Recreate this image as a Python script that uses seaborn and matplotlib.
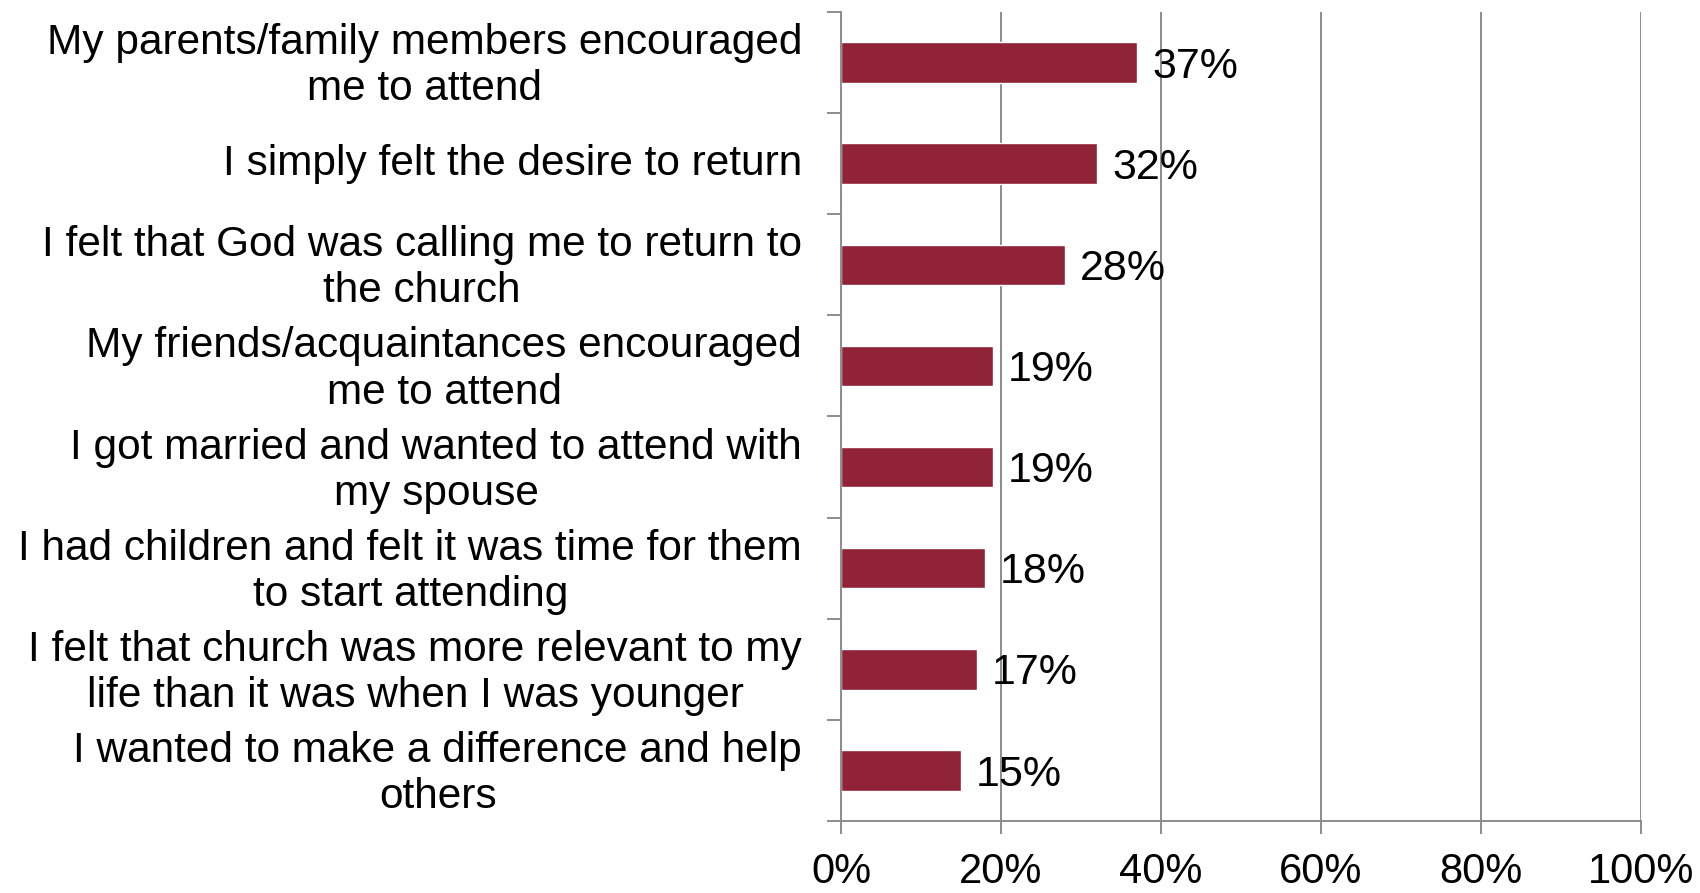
import matplotlib
matplotlib.use("Agg")
import matplotlib.pyplot as plt
import matplotlib.transforms as mtransforms
import seaborn as sns
import pandas as pd
import numpy as np

# reasons for returning to church
reasons = [
    "My parents/family members encouraged\nme to attend",
    "I simply felt the desire to return",
    "I felt that God was calling me to return to\nthe church",
    "My friends/acquaintances encouraged\nme to attend",
    "I got married and wanted to attend with\nmy spouse",
    "I had children and felt it was time for them\nto start attending",
    "I felt that church was more relevant to my\nlife than it was when I was younger",
    "I wanted to make a difference and help\nothers",
]
pct = [37, 32, 28, 19, 19, 18, 17, 15]
xticks = [0, 20, 40, 60, 80, 100]

sns.set_style("white")
plt.rcParams['font.family'] = ['Liberation Sans', 'DejaVu Sans']
plt.rcParams['text.color'] = 'black'
plt.rcParams['xtick.color'] = 'black'
plt.rcParams['ytick.color'] = 'black'

df = pd.DataFrame({"reason": reasons, "pct": pct})

fig = plt.figure(figsize=(17, 8.93), dpi=100)
ax = fig.add_axes([0.4947, 0.0806, 0.4706, 0.906])

sns.barplot(data=df, x="pct", y="reason", color="#912338", width=0.4,
            saturation=1, ax=ax, orient="h")

grey = "#8c8c8c"
ax.set_xlim(0, 100)
ax.set_ylim(len(reasons) - 0.5, -0.5)
ax.set_xticks(xticks)
ax.set_xticklabels([f"{t}%" for t in xticks], fontsize=30)
ax.xaxis.grid(True, color=grey, linewidth=1.4)
ax.set_axisbelow(True)

ax.set_yticks(range(len(reasons)))
ax.set_yticklabels(reasons, fontsize=30.5, multialignment="center", linespacing=1.2)
ax.set_yticks(np.arange(-0.5, len(reasons) - 0.4, 1), minor=True)
ax.tick_params(axis="y", which="major", length=0, pad=28)
ax.tick_params(axis="y", which="minor", length=10, width=1.4, color=grey, left=True)
ax.tick_params(axis="x", length=9, width=1.4, color=grey, labelcolor="black", pad=13, bottom=True)

# nudge category labels up a little
shift = mtransforms.ScaledTranslation(0, 0.04, fig.dpi_scale_trans)
for lab in ax.get_yticklabels():
    lab.set_transform(lab.get_transform() + shift)

for s in ["top", "right"]:
    ax.spines[s].set_visible(False)
for s in ["left", "bottom"]:
    ax.spines[s].set_color(grey)
    ax.spines[s].set_linewidth(1.4)

ax.set_xlabel("")
ax.set_ylabel("")

for i, v in enumerate(pct):
    ax.text(v + 1.9, i + 0.04, f"{v}%", va="center", ha="left", fontsize=31, color="black")

fig.savefig("out.png", dpi=100)
